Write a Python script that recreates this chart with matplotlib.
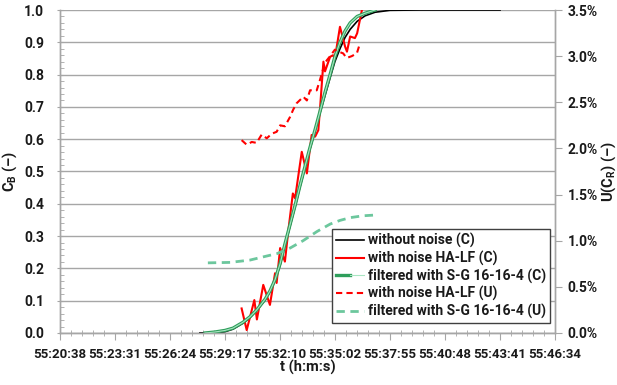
import matplotlib
matplotlib.use("Agg")
import matplotlib.pyplot as plt
from matplotlib.ticker import FixedLocator, FuncFormatter, MultipleLocator
from matplotlib.legend_handler import HandlerTuple

plt.rcParams['font.family'] = ['Roboto', 'DejaVu Sans']
plt.rcParams['font.weight'] = 'bold'
plt.rcParams['mathtext.fontset'] = 'custom'
plt.rcParams['mathtext.rm'] = 'Roboto:bold'
plt.rcParams['mathtext.default'] = 'rm'

# time axis (seconds), tick labels shown as h:mm:ss
t_start = 199238.4
t_step = 172.8
n_steps = 9

# concentration without noise (C)
t_clean = [199678, 199725, 199757, 199782, 199813, 199835, 199857, 199883, 199898,
           199914, 199930, 199945, 199961, 199977, 199992, 200008, 200024, 200040,
           200055, 200071, 200087, 200102, 200118, 200134, 200150, 200172, 200197,
           200228, 200275, 200369, 200621]
c_clean = [0.0, 0.0, 0.004, 0.012, 0.03, 0.047, 0.07, 0.102, 0.128,
           0.162, 0.21, 0.27, 0.33, 0.39, 0.45, 0.51, 0.57, 0.625,
           0.68, 0.735, 0.79, 0.84, 0.88, 0.915, 0.94, 0.965, 0.982,
           0.993, 0.999, 1.0, 1.0]

# concentration with noise HA-LF (C)
t_noisy = [199809, 199825, 199849, 199857, 199877, 199898, 199914, 199919, 199930,
           199945, 199956, 199970, 199977, 199998, 200014, 200029, 200040, 200050,
           200055, 200066, 200071, 200087, 200096, 200102, 200118, 200134, 200140,
           200150, 200165, 200172, 200187]
c_noisy = [0.076, 0.009, 0.102, 0.042, 0.149, 0.087, 0.185, 0.155, 0.263,
           0.221, 0.319, 0.432, 0.417, 0.561, 0.494, 0.613, 0.608, 0.628,
           0.69, 0.84, 0.81, 0.855, 0.86, 0.85, 0.948, 0.887, 0.871,
           0.918, 0.913, 0.928, 1.0]

# concentration filtered with S-G 16-16-4 (C)
t_filt = [199694, 199725, 199757, 199782, 199813, 199835, 199857, 199883, 199898,
          199914, 199930, 199945, 199961, 199977, 199992, 200008, 200024, 200040,
          200055, 200071, 200087, 200102, 200118, 200134, 200150, 200172, 200197,
          200228]
c_filt = [0.0, 0.003, 0.008, 0.015, 0.033, 0.05, 0.072, 0.105, 0.13,
          0.165, 0.215, 0.275, 0.335, 0.395, 0.455, 0.515, 0.575, 0.63,
          0.685, 0.745, 0.80, 0.855, 0.90, 0.935, 0.96, 0.98, 0.99,
          1.0]

# uncertainty with noise HA-LF (U), percent
t_u_noisy = [199809, 199825, 199841, 199856, 199872, 199888, 199904, 199919, 199930,
             199945, 199961, 199971, 199982, 200003, 200014, 200024, 200045, 200055,
             200071, 200087, 200102, 200113, 200128, 200139, 200155, 200171, 200181]
u_noisy = [2.09, 2.04, 2.07, 2.06, 2.15, 2.11, 2.16, 2.18, 2.25,
           2.24, 2.34, 2.42, 2.49, 2.56, 2.52, 2.63, 2.63, 2.74,
           2.93, 3.00, 3.07, 3.05, 3.03, 2.98, 3.00, 3.03, 3.14]

# uncertainty filtered with S-G 16-16-4 (U), percent
t_u_filt = [199703, 199773, 199835, 199883, 199920, 199961, 200002, 200046, 200087,
            200118, 200150, 200190, 200237]
u_filt = [0.76, 0.765, 0.79, 0.83, 0.86, 0.92, 1.00, 1.10, 1.18,
          1.22, 1.25, 1.27, 1.28]

labels = ['without noise (C)', 'with noise HA-LF (C)', 'filtered with S-G 16-16-4 (C)',
          'with noise HA-LF (U)', 'filtered with S-G 16-16-4 (U)']

RED = '#ff0000'
GREEN_DARK = '#2e9e5b'
GREEN_LIGHT = '#a8e6c2'
GREEN_DASH = '#6cc79d'
GRID = '#a6a6a6'
TXT = '#1a1a1a'


def hms(t, pos=None):
    s = int(round(t))
    return f"{s // 3600}:{(s % 3600) // 60:02d}:{s % 60:02d}"


fig = plt.figure(figsize=(6.17, 3.85), dpi=100)
ax = fig.add_axes([60 / 617, 1 - 333 / 385, 495 / 617, 323 / 385])
ax2 = ax.twinx()

t_end = t_start + n_steps * t_step
ax.set_xlim(t_start, t_end)
ax.set_ylim(0, 1.0)
ax2.set_ylim(0, 3.5)

# curves on the primary axis
l_clean, = ax.plot(t_clean, c_clean, color='black', lw=1.2, zorder=3)
l_noisy, = ax.plot(t_noisy, c_noisy, color=RED, lw=1.5, zorder=4)
l_f1, = ax.plot(t_filt, c_filt, color=GREEN_DARK, lw=2.4, zorder=5)
l_f2, = ax.plot(t_filt, c_filt, color=GREEN_LIGHT, lw=0.8, zorder=6)

# uncertainty curves on the secondary axis
l_un, = ax2.plot(t_u_noisy, u_noisy, color=RED, lw=1.5, ls=(0, (3, 2)))
l_uf, = ax2.plot(t_u_filt, u_filt, color=GREEN_DASH, lw=2.0, ls=(0, (3, 2)))

# grid and spines
ax.yaxis.grid(True, color=GRID, lw=1.0)
ax.set_axisbelow(True)
for a in (ax, ax2):
    a.spines['top'].set_visible(False)
    for s in ('left', 'right', 'bottom'):
        a.spines[s].set_color(GRID)
        a.spines[s].set_linewidth(1.0)

# x ticks
ax.xaxis.set_major_locator(FixedLocator([t_start + k * t_step for k in range(n_steps + 1)]))
ax.xaxis.set_minor_locator(FixedLocator([t_start + k * t_step / 5 for k in range(n_steps * 5 + 1)]))
ax.xaxis.set_major_formatter(FuncFormatter(hms))
ax.tick_params(axis='x', which='major', direction='out', length=5, color=GRID,
               labelsize=9.5, labelcolor=TXT, pad=6)
ax.tick_params(axis='x', which='minor', direction='inout', length=5, color=GRID)

# left y ticks
ax.yaxis.set_major_locator(MultipleLocator(0.1))
ax.yaxis.set_minor_locator(MultipleLocator(0.02))
ax.yaxis.set_major_formatter(FuncFormatter(lambda v, p: f"{v:.1f}"))
ax.tick_params(axis='y', which='major', direction='inout', length=5, color=GRID,
               labelsize=10, labelcolor=TXT, pad=9)
ax.tick_params(axis='y', which='minor', direction='in', length=3, color=GRID)

# right y ticks
ax2.yaxis.set_major_locator(MultipleLocator(0.5))
ax2.yaxis.set_major_formatter(FuncFormatter(lambda v, p: f"{v:.1f}%"))
ax2.tick_params(axis='y', which='major', direction='out', length=5, color=GRID,
                labelsize=10, labelcolor=TXT, pad=4)

ax.set_xlabel('t (h:m:s)', fontsize=10.5, fontweight='bold', color=TXT)
ax.xaxis.set_label_coords(0.5, -0.085)
ax.set_ylabel('C$_\\mathregular{B}$ (–)', fontsize=10.5, fontweight='bold', color=TXT)
ax.yaxis.set_label_coords(-0.082, 0.5)
ax2.set_ylabel('U(C$_\\mathregular{R}$) (–)', fontsize=10.5, fontweight='bold', color=TXT,
               rotation=90, va='center', ha='center')
ax2.yaxis.set_label_coords(1.108, 0.5)

leg = ax2.legend([l_clean, l_noisy, (l_f1, l_f2), l_un, l_uf], labels,
                 handler_map={tuple: HandlerTuple(ndivide=None, pad=0)},
                 loc='lower right', bbox_to_anchor=(0.99, 0.03),
                 fontsize=10, frameon=True, fancybox=False, framealpha=1,
                 edgecolor='#404040', handlelength=2.0, handletextpad=0.3,
                 borderpad=0.3, labelspacing=0.2, borderaxespad=0)
leg.get_frame().set_linewidth(1.0)
for txt in leg.get_texts():
    txt.set_fontweight('bold')
    txt.set_color(TXT)

fig.canvas.draw()
for lab in (ax.get_xticklabels() + ax.get_yticklabels() + ax2.get_yticklabels()):
    lab.set_fontweight('bold')

fig.savefig('out.png', dpi=100)
